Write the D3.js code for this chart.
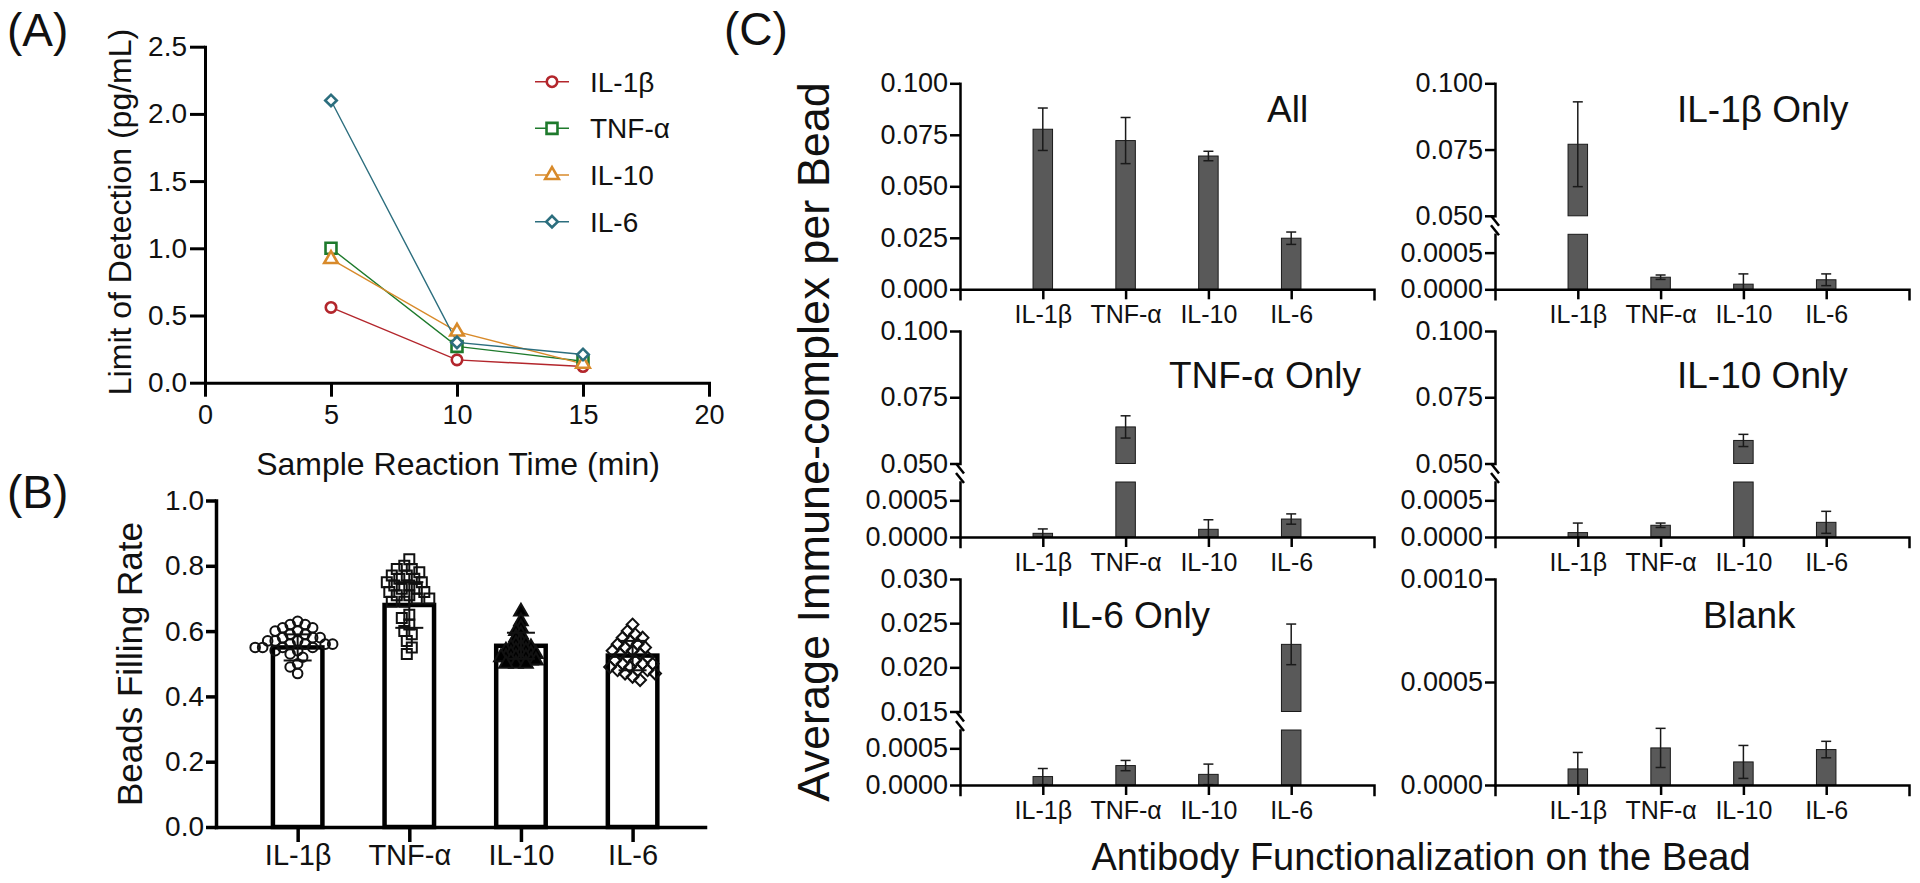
<!DOCTYPE html>
<html><head><meta charset="utf-8">
<script src="https://cdn.jsdelivr.net/npm/d3@7"></script>
<style>
html,body{margin:0;padding:0;background:#fff;}
svg{display:block;font-family:"Liberation Sans",Arial,Helvetica,sans-serif;}
</style></head><body>
<svg id="fig" width="1920" height="883"></svg>
<script>
// ---------------- DATA ----------------
// Panel A: limit of detection vs. sample reaction time
const timeMin = [5, 10, 15];
const lodIL1b = [0.56, 0.17, 0.12];
const lodTNFa = [1.00, 0.27, 0.16];
const lodIL10 = [0.92, 0.38, 0.14];
const lodIL6  = [2.10, 0.30, 0.21];
const xTicksA = [0, 5, 10, 15, 20];
const yTicksA = [0, 0.5, 1.0, 1.5, 2.0, 2.5];

// Panel B: beads filling rate
const cytokines = ["IL-1β", "TNF-α", "IL-10", "IL-6"];
const fillMean = [0.55, 0.68, 0.555, 0.525];
const fillSD   = [0.04, 0.07, 0.04, 0.045];
const fillIL1b = [0.63, 0.62, 0.62, 0.61, 0.61, 0.60, 0.60, 0.59, 0.59, 0.58, 0.58, 0.58, 0.57, 0.57, 0.57, 0.56, 0.56, 0.56, 0.56, 0.55, 0.55, 0.55, 0.55, 0.54, 0.54, 0.53, 0.52, 0.50, 0.49, 0.47];
const fillTNFa = [0.82, 0.80, 0.79, 0.79, 0.78, 0.77, 0.77, 0.76, 0.76, 0.75, 0.75, 0.74, 0.74, 0.73, 0.73, 0.72, 0.72, 0.71, 0.71, 0.70, 0.70, 0.69, 0.69, 0.65, 0.64, 0.62, 0.60, 0.59, 0.57, 0.55, 0.53];
const fillIL10 = [0.66, 0.63, 0.61, 0.60, 0.59, 0.58, 0.57, 0.56, 0.56, 0.55, 0.55, 0.55, 0.54, 0.54, 0.54, 0.53, 0.53, 0.53, 0.53, 0.52, 0.52, 0.52, 0.52, 0.51, 0.51, 0.51, 0.51, 0.50, 0.50, 0.50];
const fillIL6  = [0.62, 0.60, 0.59, 0.58, 0.58, 0.57, 0.56, 0.56, 0.55, 0.55, 0.54, 0.54, 0.53, 0.53, 0.52, 0.52, 0.51, 0.51, 0.50, 0.50, 0.50, 0.49, 0.49, 0.48, 0.48, 0.48, 0.47, 0.47, 0.46, 0.45];
const yTicksB = [0, 0.2, 0.4, 0.6, 0.8, 1.0];

// Panel C: average immune-complex per bead
const meanAll      = [0.0777, 0.0722, 0.0647, 0.0248];
const sdAll        = [0.0103, 0.0112, 0.0023, 0.0030];
const meanIL1bOnly = [0.0770, 0.000165, 0.00007, 0.00013];
const sdIL1bOnly   = [0.0160, 0.00003, 0.00014, 0.00008];
const meanTNFaOnly = [0.00005, 0.0638, 0.000105, 0.000245];
const sdTNFaOnly   = [0.00006, 0.0042, 0.00013, 0.00007];
const meanIL10Only = [0.00006, 0.00016, 0.0587, 0.0002];
const sdIL10Only   = [0.00013, 0.00003, 0.0023, 0.00015];
const meanIL6Only  = [0.000115, 0.000265, 0.000145, 0.0226];
const sdIL6Only    = [0.00011, 0.00007, 0.00014, 0.0023];
const meanBlank    = [0.000078, 0.00018, 0.000112, 0.000172];
const sdBlank      = [0.00008, 0.000095, 0.00008, 0.00004];
const ticksAll        = [0, 0.025, 0.05, 0.075, 0.1];
const ticksBrokenHigh = [0.05, 0.075, 0.1];
const ticksIL6High    = [0.015, 0.02, 0.025, 0.03];
const ticksLow        = [0, 0.0005];
const ticksBlank      = [0, 0.0005, 0.001];

// ---------------- DRAW ----------------
const svg = d3.select("#fig");

function styleAxis(g, w, fs) {
  g.attr("font-family", null).attr("font-size", null);
  g.selectAll("path.domain").attr("stroke", "#000").attr("stroke-width", w).attr("stroke-linecap", "square");
  g.selectAll(".tick line").attr("stroke", "#000").attr("stroke-width", w);
  g.selectAll(".tick text").attr("fill", "#111").attr("font-size", fs);
}
function addText(x, y, s, fs, anchor, rot) {
  const t = svg.append("text").attr("font-size", fs).attr("fill", "#111")
    .attr("text-anchor", anchor || "start").text(s);
  if (rot) t.attr("transform", `translate(${x},${y}) rotate(${rot})`);
  else t.attr("x", x).attr("y", y);
  return t;
}

// Panel letters
addText(7, 46, "(A)", 46);
addText(7, 508, "(B)", 46);
addText(724, 45, "(C)", 46);

// ===== Panel A =====
(function () {
  const x = d3.scaleLinear().domain([0, 20]).range([205, 709]);
  const y = d3.scaleLinear().domain([0, 2.5]).range([382.7, 46.7]);
  const g = svg.append("g");
  const series = [
    {name: cytokines[0], vals: lodIL1b, color: "#b3262c", sym: "circle"},
    {name: cytokines[1], vals: lodTNFa, color: "#1e7a2c", sym: "square"},
    {name: cytokines[2], vals: lodIL10, color: "#d88a2a", sym: "triangle"},
    {name: cytokines[3], vals: lodIL6,  color: "#2c6e7e", sym: "diamond"}
  ];
  const symGen = {
    circle: d3.symbol().type(d3.symbolCircle).size(86),
    square: d3.symbol().type(d3.symbolSquare).size(120),
    triangle: d3.symbol().type(d3.symbolTriangle).size(80),
    diamond: d3.symbol().type(d3.symbolSquare).size(66)
  };
  const rotOf = s => s === "diamond" ? 45 : 0;
  const line = d3.line().x((d, i) => x(timeMin[i])).y(d => y(d));
  series.forEach(s => {
    g.append("path").attr("d", line(s.vals)).attr("fill", "none")
      .attr("stroke", s.color).attr("stroke-width", 1.4);
  });
  series.forEach(s => {
    g.selectAll(null).data(s.vals).enter().append("path")
      .attr("d", symGen[s.sym]())
      .attr("transform", (d, i) => `translate(${x(timeMin[i])},${y(d)}) rotate(${rotOf(s.sym)})`)
      .attr("fill", "#fff").attr("stroke", s.color).attr("stroke-width", 2.6);
  });
  const xa = g.append("g").attr("transform", `translate(0,${y(0)})`)
    .call(d3.axisBottom(x).tickValues(xTicksA).tickSize(14).tickSizeOuter(0).tickPadding(8));
  styleAxis(xa, 3, 27);
  const ya = g.append("g").attr("transform", `translate(${x(0)},0)`)
    .call(d3.axisLeft(y).tickValues(yTicksA).tickFormat(d3.format(".1f")).tickSize(15).tickSizeOuter(0).tickPadding(3));
  styleAxis(ya, 3, 28);
  // legend
  const legY = d3.scalePoint().domain(cytokines).range([81.7, 221.7]);
  series.forEach(s => {
    const ly = legY(s.name);
    g.append("line").attr("x1", 535).attr("x2", 569).attr("y1", ly).attr("y2", ly)
      .attr("stroke", s.color).attr("stroke-width", 1.5);
    g.append("path").attr("d", symGen[s.sym]())
      .attr("transform", `translate(552,${ly}) rotate(${rotOf(s.sym)})`)
      .attr("fill", "#fff").attr("stroke", s.color).attr("stroke-width", 2.6);
    g.append("text").attr("x", 590).attr("y", ly).attr("dy", "0.36em")
      .attr("font-size", 28).attr("fill", "#111").text(s.name);
  });
  addText(458, 475, "Sample Reaction Time (min)", 32, "middle");
  addText(131, 212, "Limit of Detection (pg/mL)", 32, "middle", -90);
})();

// ===== Panel B =====
(function () {
  const x = d3.scalePoint().domain(cytokines).range([216, 705]).padding(0.69).align(0.53);
  const y = d3.scaleLinear().domain([0, 1]).range([827, 500.5]);
  const g = svg.append("g");
  const bw = 49.5;
  g.selectAll(null).data(cytokines).enter().append("rect")
    .attr("x", d => x(d) - bw / 2).attr("width", bw)
    .attr("y", (d, i) => y(fillMean[i])).attr("height", (d, i) => y(0) - y(fillMean[i]))
    .attr("fill", "#fff").attr("stroke", "#000").attr("stroke-width", 4.5);

  const groups = [fillIL1b, fillTNFa, fillIL10, fillIL6];
  const syms = [
    {gen: d3.symbol().type(d3.symbolCircle).size(72), fill: "none", rot: 0, minD: 7},
    {gen: d3.symbol().type(d3.symbolSquare).size(100), fill: "none", rot: 0, minD: 8},
    {gen: d3.symbol().type(d3.symbolTriangle).size(80), fill: "#000", rot: 0, minD: 4.2},
    {gen: d3.symbol().type(d3.symbolSquare).size(70), fill: "none", rot: 45, minD: 7}
  ];
  function swarm(vals, cx, minD) {
    const pts = vals.map(v => ({v, y: y(v)})).sort((a, b) => a.y - b.y);
    const placed = [];
    pts.forEach(p => {
      for (let k = 0; k < 60; k++) {
        const off = (k % 2 === 0 ? 1 : -1) * Math.ceil(k / 2) * 2.5;
        const ok = placed.every(q => Math.hypot(q.x - (cx + off), q.y - p.y) >= minD);
        if (ok) { p.x = cx + off; break; }
      }
      placed.push(p);
    });
    return placed;
  }
  groups.forEach((vals, gi) => {
    const pts = swarm(vals, x(cytokines[gi]), syms[gi].minD);
    g.selectAll(null).data(pts).enter().append("path")
      .attr("d", syms[gi].gen())
      .attr("transform", d => `translate(${d.x},${d.y}) rotate(${syms[gi].rot})`)
      .attr("fill", syms[gi].fill === "none" ? "none" : syms[gi].fill)
      .attr("stroke", "#111").attr("stroke-width", 2);
  });
  // mean ± SD
  cytokines.forEach((c, i) => {
    const cx = x(c), lo = y(fillMean[i] - fillSD[i]), hi = y(fillMean[i] + fillSD[i]);
    g.append("line").attr("x1", cx).attr("x2", cx).attr("y1", lo).attr("y2", hi).attr("stroke", "#111").attr("stroke-width", 2);
    [lo, hi].forEach(yy => g.append("line").attr("x1", cx - 14).attr("x2", cx + 14).attr("y1", yy).attr("y2", yy).attr("stroke", "#111").attr("stroke-width", 2));
  });
  const xa = g.append("g").attr("transform", `translate(0,${y(0)})`)
    .call(d3.axisBottom(x).tickSize(15).tickSizeOuter(0).tickPadding(2));
  styleAxis(xa, 3.5, 29);
  const ya = g.append("g").attr("transform", "translate(216,0)")
    .call(d3.axisLeft(y).tickValues(yTicksB).tickFormat(d3.format(".1f")).tickSize(10).tickSizeOuter(0).tickPadding(2));
  styleAxis(ya, 3.5, 28);
  addText(142, 664, "Beads Filling Rate", 35, "middle", -90);
})();

// ===== Panel C =====
const colX = [960, 1495];
const rowY = [289.3, 537, 785];
const PH = 206, LOWTOP = 55, GAPTOP = 73.5, LOWMAX = 0.00075;
const panelsC = [
  {title: "All",        mean: meanAll,      sd: sdAll,      col: 0, row: 0, max: 0.1,   ticks: ticksAll,   fmt: ".3f", tx: 1267, ty: 121.7},
  {title: "IL-1β Only", mean: meanIL1bOnly, sd: sdIL1bOnly, col: 1, row: 0, max: 0.1,   low: 0.05,  hiTicks: ticksBrokenHigh, tx: 1677, ty: 121.5},
  {title: "TNF-α Only", mean: meanTNFaOnly, sd: sdTNFaOnly, col: 0, row: 1, max: 0.1,   low: 0.05,  hiTicks: ticksBrokenHigh, tx: 1169, ty: 388},
  {title: "IL-10 Only", mean: meanIL10Only, sd: sdIL10Only, col: 1, row: 1, max: 0.1,   low: 0.05,  hiTicks: ticksBrokenHigh, tx: 1677, ty: 388},
  {title: "IL-6 Only",  mean: meanIL6Only,  sd: sdIL6Only,  col: 0, row: 2, max: 0.03,  low: 0.015, hiTicks: ticksIL6High,    tx: 1060, ty: 628},
  {title: "Blank",      mean: meanBlank,    sd: sdBlank,    col: 1, row: 2, max: 0.001, ticks: ticksBlank, fmt: ".4f", tx: 1703, ty: 628}
];

panelsC.forEach(p => {
  const X0 = colX[p.col], Y0 = rowY[p.row];
  const x = d3.scalePoint().domain(cytokines).range([X0, X0 + 414]).padding(1);
  const g = svg.append("g");
  const bw = 19.5;
  const ink = "#1a1a1a", fillC = "#595959";
  let yOf, loOf;
  if (p.low === undefined) {
    const y = d3.scaleLinear().domain([0, p.max]).range([Y0, Y0 - PH]);
    yOf = v => y(v);
    g.selectAll(null).data(p.mean).enter().append("rect")
      .attr("x", (d, i) => x(cytokines[i]) - bw / 2).attr("width", bw)
      .attr("y", d => y(d)).attr("height", d => Y0 - y(d))
      .attr("fill", fillC).attr("stroke", ink).attr("stroke-width", 1);
    const ya = g.append("g").attr("transform", `translate(${X0},0)`)
      .call(d3.axisLeft(y).tickValues(p.ticks).tickFormat(d3.format(p.fmt)).tickSize(10).tickSizeOuter(0).tickPadding(2));
    styleAxis(ya, 2.5, 27);
    loOf = (m, s) => Math.max(0, m - s);
  } else {
    const yb = d3.scaleLinear().domain([0, LOWMAX]).range([Y0, Y0 - LOWTOP]);
    const yt = d3.scaleLinear().domain([p.low, p.max]).range([Y0 - GAPTOP, Y0 - PH]);
    yOf = v => v >= p.low ? yt(v) : yb(Math.min(v, LOWMAX));
    p.mean.forEach((m, i) => {
      const cx = x(cytokines[i]);
      if (m >= p.low) {
        g.append("rect").attr("x", cx - bw / 2).attr("width", bw)
          .attr("y", yb(LOWMAX)).attr("height", Y0 - yb(LOWMAX))
          .attr("fill", fillC).attr("stroke", ink).attr("stroke-width", 1);
        g.append("rect").attr("x", cx - bw / 2).attr("width", bw)
          .attr("y", yt(m)).attr("height", yt(p.low) - yt(m))
          .attr("fill", fillC).attr("stroke", ink).attr("stroke-width", 1);
      } else {
        g.append("rect").attr("x", cx - bw / 2).attr("width", bw)
          .attr("y", yb(m)).attr("height", Y0 - yb(m))
          .attr("fill", fillC).attr("stroke", ink).attr("stroke-width", 1);
      }
    });
    const yaB = g.append("g").attr("transform", `translate(${X0},0)`)
      .call(d3.axisLeft(yb).tickValues(ticksLow).tickFormat(d3.format(".4f")).tickSize(10).tickSizeOuter(0).tickPadding(2));
    styleAxis(yaB, 2.5, 27);
    const yaT = g.append("g").attr("transform", `translate(${X0},0)`)
      .call(d3.axisLeft(yt).tickValues(p.hiTicks).tickFormat(d3.format(".3f")).tickSize(10).tickSizeOuter(0).tickPadding(2));
    styleAxis(yaT, 2.5, 27);
    // break marks
    [yt(p.low) + 5, yb(LOWMAX) - 4].forEach(by => {
      g.append("line").attr("x1", X0 - 4).attr("x2", X0 + 4).attr("y1", by - 5).attr("y2", by + 5)
        .attr("stroke", "#000").attr("stroke-width", 2.5);
    });
    loOf = (m, s) => m >= p.low ? Math.max(p.low, m - s) : Math.max(0, m - s);
  }
  // error bars
  p.mean.forEach((m, i) => {
    const cx = x(cytokines[i]);
    const hi = yOf(m + p.sd[i]), lo = yOf(loOf(m, p.sd[i]));
    g.append("line").attr("x1", cx).attr("x2", cx).attr("y1", lo).attr("y2", hi).attr("stroke", ink).attr("stroke-width", 1.5);
    g.append("line").attr("x1", cx - 5).attr("x2", cx + 5).attr("y1", hi).attr("y2", hi).attr("stroke", ink).attr("stroke-width", 1.5);
    if (loOf(m, p.sd[i]) > 0) g.append("line").attr("x1", cx - 5).attr("x2", cx + 5).attr("y1", lo).attr("y2", lo).attr("stroke", ink).attr("stroke-width", 1.5);
  });
  const xa = g.append("g").attr("transform", `translate(0,${Y0})`)
    .call(d3.axisBottom(x).tickSize(10).tickSizeOuter(10).tickPadding(6));
  styleAxis(xa, 2.5, 25);
  addText(p.tx, p.ty, p.title, 37);
});

addText(829, 442, "Average Immune-complex per Bead", 45, "middle", -90);
addText(1421, 870, "Antibody Functionalization on the Bead", 38, "middle");
</script>
</body></html>
